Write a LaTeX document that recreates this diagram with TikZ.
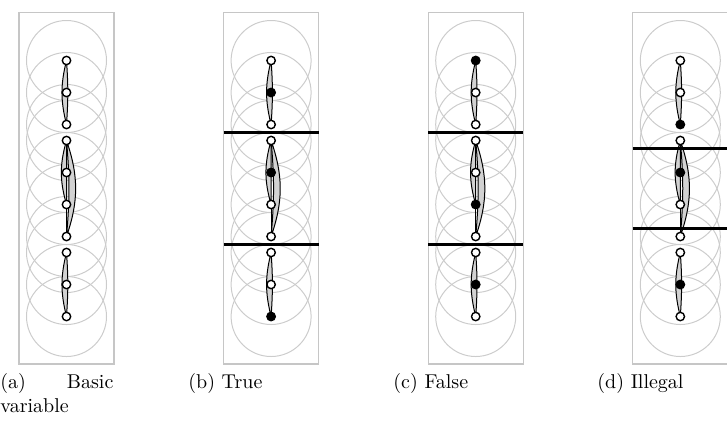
\documentclass[tikz,border=0pt]{standalone}
\usepackage{tikz}

\begin{document}
\begin{tikzpicture}[x=0.5pt, y=-0.5pt,
  disk/.style={draw=gray!40, line width=0.5pt},
  frame/.style={draw=gray!45, line width=0.6pt},
  lens/.style={draw=black, fill=gray!35, line width=0.5pt},
  cut/.style={draw=black, line width=1.1pt},
  v0/.style={circle, draw, line width=0.7pt, fill=white, inner sep=0pt, minimum size=4.2pt},
  v1/.style={v0, fill=black},
  caption/.style={inner sep=0pt, font=\normalsize}]
  \useasboundingbox (0,0) rectangle (727,420);

  % one gadget chain per panel, states 0 = free, 1 = chosen
  \foreach \p/\cx/\states in {a/66.5/{0,0,0,0,0,0,0,0,0,0},
                              b/271.1/{0,1,0,0,1,0,0,0,0,1},
                              c/475.7/{1,0,0,0,0,1,0,0,1,0},
                              d/680.3/{0,0,1,0,1,0,0,0,1,0}}{
    \foreach \y [count=\i] in {60.5,92.5,124.5,140.5,172.5,204.5,236.5,252.5,284.5,316.5}
      \coordinate (\p-\i) at (\cx,\y);
    \foreach \i in {1,...,10}
      \draw[disk] (\p-\i) circle[radius=40];
    \draw[frame] (\cx-47.5,12.5) rectangle (\cx+47.5,364);
    % lenses
    \filldraw[lens] (\p-1) to[bend right=14] (\p-3) to[bend right=4] (\p-1);
    \filldraw[lens] (\p-4) to[bend right=16] (\p-6) -- (\p-4);
    \filldraw[lens] (\p-4) to[bend left=19] (\p-7) to[bend right=5] (\p-4);
    \draw[lens] (\p-6) -- (\p-7);
    \filldraw[lens] (\p-8) to[bend right=14] (\p-10) to[bend right=4] (\p-8);
    \foreach \s [count=\i] in \states
      \node[v\s] (\p-n\i) at (\p-\i) {};
  }

  % cuts
  \foreach \x/\ya/\yb in {271.1/132.5/244.5, 475.7/132.5/244.5, 680.3/148.5/228.5}{
    \draw[cut] (\x-47.5,\ya) -- (\x+47.5,\ya);
    \draw[cut] (\x-47.5,\yb) -- (\x+47.5,\yb);
  }

  \node[caption, text width=56.5pt, align=justify, anchor=north west] (cap-a) at (0,373) {(a) Basic variable};
  \node[caption, anchor=base west] (cap-b) at (188,388) {(b) True};
  \node[caption, anchor=base west] (cap-c) at (393,388) {(c) False};
  \node[caption, anchor=base west] (cap-d) at (597,388) {(d) Illegal};
\end{tikzpicture}
\end{document}
